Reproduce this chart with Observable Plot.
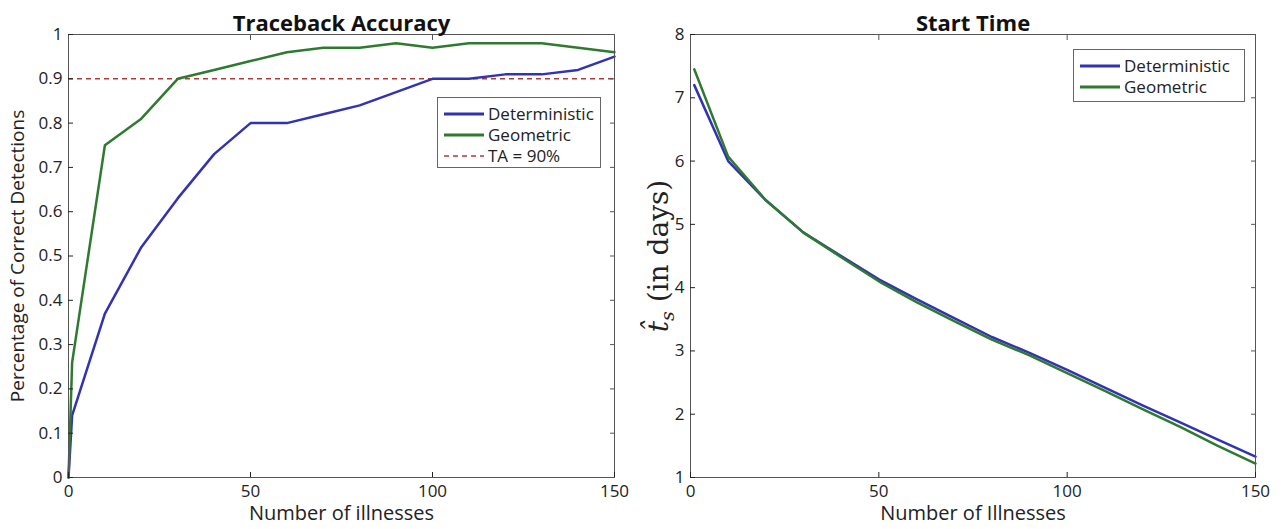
<!DOCTYPE html>
<html><head><meta charset="utf-8">
<script src="https://cdn.jsdelivr.net/npm/d3@7"></script>
<script src="https://cdn.jsdelivr.net/npm/@observablehq/plot@0.6"></script>
<style>
body{margin:0;background:#fff;font-family:"Open Sans",sans-serif;}
#wrap{position:relative;width:1283px;height:529px;display:flex;}
.leg{position:absolute;border:1px solid #666;background:#fff;font-family:"Open Sans",sans-serif;font-size:17px;color:#222;box-sizing:border-box;}
.leg div{display:flex;align-items:center;height:21px;}
.leg svg{margin-right:3px;}
</style></head><body>
<div id="wrap"></div>
<script>
const xLeft = [0,1,10,20,30,40,50,60,70,80,90,100,110,120,130,140,150];
const accDeterministic = [0,0.14,0.37,0.52,0.63,0.73,0.80,0.80,0.82,0.84,0.87,0.90,0.90,0.91,0.91,0.92,0.95];
const accGeometric = [0,0.26,0.75,0.81,0.90,0.92,0.94,0.96,0.97,0.97,0.98,0.97,0.98,0.98,0.98,0.97,0.96];
const taThreshold = 0.9;
const xRight = [1,10,20,30,40,50,60,70,80,90,100,110,120,130,140,150];
const stDeterministic = [7.2,6.0,5.38,4.87,4.5,4.13,3.82,3.52,3.22,2.97,2.7,2.42,2.14,1.87,1.6,1.33];
const stGeometric = [7.45,6.07,5.38,4.87,4.48,4.1,3.77,3.47,3.18,2.93,2.65,2.37,2.08,1.8,1.5,1.22];
const xTicks = [0,50,100,150];
const yTicksLeft = [0,0.1,0.2,0.3,0.4,0.5,0.6,0.7,0.8,0.9,1];
const yTicksRight = [1,2,3,4,5,6,7,8];
const seriesNames = ["Deterministic","Geometric"];
const colors = {Deterministic:"#3232b4", Geometric:"#2f7a30", TA:"#b03a3a"};

const toRows = (xs, ys, s) => xs.map((x,i)=>({x, y:ys[i], s}));
const leftData = [...toRows(xLeft, accDeterministic, "Deterministic"), ...toRows(xLeft, accGeometric, "Geometric")];
const rightData = [...toRows(xRight, stDeterministic, "Deterministic"), ...toRows(xRight, stGeometric, "Geometric")];

function axes(yTicks, fmt){
  return [
    Plot.frame({stroke:"#555", strokeWidth:1}),
    Plot.axisX({anchor:"bottom", ticks:xTicks, tickSize:-5, tickPadding:12, fontSize:17, label:null, color:"#222"}),
    Plot.axisX({anchor:"top", ticks:xTicks, tickSize:-5, text:null, label:null, color:"#555"}),
    Plot.axisY({anchor:"left", ticks:yTicks, tickSize:-5, tickPadding:11, fontSize:17, label:null, tickFormat:fmt, color:"#222"}),
    Plot.axisY({anchor:"right", ticks:yTicks, tickSize:-5, text:null, label:null, color:"#555"})
  ];
}

const left = Plot.plot({
  width:640, height:529, marginLeft:68, marginRight:26, marginTop:34, marginBottom:52,
  style:{fontFamily:"Open Sans, sans-serif", color:"#222"},
  x:{domain:[0,150]}, y:{domain:[0,1]},
  marks:[
    Plot.ruleY([taThreshold], {stroke:colors.TA, strokeDasharray:"5,4", strokeWidth:1.5}),
    Plot.line(leftData, {x:"x", y:"y", z:"s", stroke:d=>colors[d.s], strokeWidth:2.5}),
    ...axes(yTicksLeft, d=>d===0||d===1?String(d):d.toFixed(1)),
    Plot.text(["Traceback Accuracy"], {frameAnchor:"top", dy:-19, fontSize:22, fontWeight:"bold", fill:"#111"}),
    Plot.text(["Number of illnesses"], {frameAnchor:"bottom", dy:42, fontSize:20, fill:"#222"}),
    Plot.text(["Percentage of Correct Detections"], {frameAnchor:"left", dx:-51, rotate:-90, textAnchor:"middle", fontSize:19, fill:"#222"})
  ]
});

const right = Plot.plot({
  width:643, height:529, marginLeft:50, marginRight:28, marginTop:34, marginBottom:52,
  style:{fontFamily:"Open Sans, sans-serif", color:"#222"},
  x:{domain:[0,150]}, y:{domain:[1,8]},
  marks:[
    Plot.line(rightData, {x:"x", y:"y", z:"s", stroke:d=>colors[d.s], strokeWidth:2.5}),
    ...axes(yTicksRight, d=>String(d)),
    Plot.text(["Start Time"], {frameAnchor:"top", dy:-19, fontSize:22, fontWeight:"bold", fill:"#111"}),
    Plot.text(["Number of Illnesses"], {frameAnchor:"bottom", dy:42, fontSize:20, fill:"#222"}),
    Plot.text(["t̂s (in days)"], {frameAnchor:"left", dx:-31, rotate:-90, textAnchor:"middle", fontSize:28, fill:"#222", fontFamily:"DejaVu Serif, serif", className:"ylab-math"})
  ]
});

const wrap = document.getElementById("wrap");
wrap.appendChild(left);
wrap.appendChild(right);

// render subscript in math label
d3.select(right).selectAll(".ylab-math text").each(function(){
  const t = d3.select(this);
  t.text(null);
  t.append("tspan").attr("font-style","italic").text("t̂");
  t.append("tspan").attr("font-style","italic").attr("font-size","19").attr("dy","6").text("s");
  t.append("tspan").attr("dy","-6").text(" (in days)");
});

function legend(leftPx, topPx, widthPx, heightPx, entries){
  const div = document.createElement("div");
  div.className = "leg";
  div.style.left = leftPx+"px"; div.style.top = topPx+"px"; div.style.width = widthPx+"px"; div.style.height = heightPx+"px";
  div.style.padding = "5px 0 0 5px";
  for (const e of entries){
    const row = document.createElement("div");
    row.innerHTML = `<svg width="42" height="10"><line x1="1" x2="41" y1="5" y2="5" stroke="${e.color}" stroke-width="${e.dash?1.5:3}" ${e.dash?'stroke-dasharray="5,4"':''}/></svg><span>${e.label}</span>`;
    div.appendChild(row);
  }
  wrap.appendChild(div);
}
legend(437, 97, 164, 71, [
  {label:seriesNames[0], color:colors.Deterministic},
  {label:seriesNames[1], color:colors.Geometric},
  {label:"TA = 90%", color:colors.TA, dash:true}
]);
legend(1073, 49, 172, 53, [
  {label:seriesNames[0], color:colors.Deterministic},
  {label:seriesNames[1], color:colors.Geometric}
]);
</script></body></html>
